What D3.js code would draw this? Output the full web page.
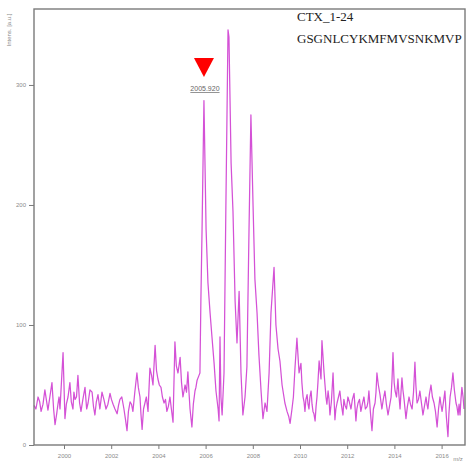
<!DOCTYPE html>
<html><head><meta charset="utf-8">
<script src="https://cdn.jsdelivr.net/npm/d3@7"></script>
<style>body{margin:0;background:#fff}svg{display:block}</style>
</head><body>
<svg id="c" width="469" height="463"></svg>
<script>
// m/z positions of the spectrum samples (main read-off points, then extra baseline samples)
const mz = [1998.73,1998.90,1999.03,1999.19,1999.32,1999.49,1999.62,1999.75,1999.83,1999.96,
2000.04,2000.17,2000.25,2000.38,2000.47,2000.59,2000.72,2000.89,2001.02,2001.19,2001.31,2001.44,2001.61,2001.78,2001.95,
2002.08,2002.25,2002.37,2002.54,2002.67,2002.80,2002.92,2003.09,2003.22,2003.31,2003.43,2003.56,2003.64,2003.77,2003.86,2003.98,
2004.11,2004.24,2004.36,2004.49,2004.62,2004.70,2004.83,2004.92,2005.04,2005.13,2005.25,2005.34,2005.42,2005.55,2005.64,2005.72,2005.76,2005.85,2005.93,
2006.02,2006.10,2006.19,2006.27,2006.36,2006.44,2006.53,2006.57,2006.61,2006.65,2006.70,2006.78,2006.86,2006.95,2006.99,
2007.08,2007.16,2007.25,2007.33,2007.42,2007.50,2007.58,2007.67,2007.75,2007.84,2007.92,
2008.01,2008.09,2008.18,2008.26,2008.35,2008.43,2008.52,2008.60,2008.69,2008.77,2008.90,2008.98,
2009.07,2009.15,2009.24,2009.36,2009.45,2009.58,2009.66,2009.79,2009.87,2009.96,
2010.04,2010.13,2010.21,2010.30,2010.38,2010.47,2010.55,2010.64,2010.72,2010.81,2010.89,2010.93,
2011.02,2011.10,2011.19,2011.27,2011.40,2011.48,2011.57,2011.69,2011.82,2011.91,
2012.03,2012.16,2012.29,2012.37,2012.46,2012.58,2012.71,2012.84,2012.92,
2013.05,2013.18,2013.26,2013.39,2013.47,2013.60,2013.73,2013.86,2013.94,
2014.03,2014.15,2014.24,2014.32,2014.41,2014.49,2014.62,2014.75,2014.87,2014.96,
2015.08,2015.21,2015.34,2015.42,2015.55,2015.68,2015.81,2015.93,
2016.02,2016.14,2016.27,2016.36,2016.48,2016.61,2016.70,2016.78,2016.86,2016.95,
1998.81,1998.97,1999.11,1999.25,1999.40,1999.56,1999.69,1999.79,2000.10,2000.31,2000.42,2000.53,2000.66,2000.80,2000.96,
2001.10,2001.25,2001.37,2001.52,2001.69,2001.86,2002.01,2002.16,2002.31,2002.45,2002.60,2002.73,2002.86,2003.00,2003.15,
2003.26,2003.37,2003.49,2003.71,2003.92,2004.04,2004.17,2004.30,2004.42,2004.55,2004.76,2004.98,2005.19,2005.29,2005.48,2005.59,
2005.80,2009.52,2009.72,2010.08,2010.17,2010.25,2010.34,2010.42,2010.51,2010.59,2010.68,2010.76,2011.06,2011.14,2011.23,
2011.33,2011.44,2011.52,2011.63,2011.75,2011.86,2011.97,2012.09,2012.22,2012.33,2012.41,2012.52,2012.64,2012.77,2012.88,
2012.98,2013.11,2013.22,2013.32,2013.43,2013.53,2013.66,2013.79,2013.90,2013.99,2014.09,2014.19,2014.28,2014.36,2014.45,
2014.55,2014.68,2014.81,2014.91,2015.02,2015.14,2015.27,2015.38,2015.48,2015.61,2015.74,2015.87,2015.97,2016.08,2016.20,
2016.31,2016.42,2016.54,2016.65,2016.74,2016.82,2016.91];
// intensities [a.u.], same order as mz
const intensity = [33,40,28,46,29,52,17,35,30,77,
22,40,52,30,38,58,28,48,35,44,25,42,44,30,43,
34,26,38,30,12,36,28,60,40,13,35,28,64,50,83,55,
48,35,28,40,19,86,60,73,40,50,61,30,15,45,54,58,60,180,287,
180,135,110,90,68,45,30,20,90,40,25,60,200,346,340,
235,195,120,85,128,60,25,40,65,180,275,
200,138,110,75,45,22,35,28,60,110,148,100,
80,70,50,35,28,18,30,65,89,60,
68,40,28,42,30,45,28,20,40,70,55,87,
60,40,45,25,60,21,35,45,25,33,
40,30,43,20,35,28,40,32,45,
12,35,60,42,30,45,25,40,77,
45,55,30,56,38,22,40,30,69,35,
45,25,40,30,50,35,15,40,
28,45,7,40,60,35,25,25,48,30,
30,36,34,38,40,30,26,40,34,36,44,40,35,38,30,
46,32,36,30,38,34,38,30,33,40,22,28,34,44,48,
26,30,40,58,62,50,40,38,32,30,66,52,44,46,34,48,
120,24,40,52,36,38,34,40,34,26,32,52,50,34,38,
36,40,30,40,34,38,30,36,38,32,30,38,34,30,36,
28,30,44,50,36,38,34,32,55,52,40,42,44,46,30,
32,34,44,50,38,36,32,34,42,40,28,30,34,36,24,
26,48,46,32,34,38,40];
const xTicks = [1999,2000,2001,2002,2003,2004,2005,2006,2007,2008,2009,2010,2011,2012,2013,2014,2015,2016];
const xLabels = [2000,2002,2004,2006,2008,2010,2012,2014,2016];
const yLabels = [0,100,200,300];
const yMinor = d3.range(0,361,20);
const peakLabel = {mz:2005.93, text:"2005.920"};
const titleLines = ["CTX_1-24","GSGNLCYKMFMVSNKMVP"];

const svg = d3.select("#c");
const L=34, R=465, T=9, B=445;
const x = d3.scaleLinear().domain([2000 + (L-64)/23.6, 2000 + (R-64)/23.6]).range([L,R]);
const y = d3.scaleLinear().domain([0,363.3]).range([B,T]);
const axisCol = "#7a7a7a", txtCol = "#8a8a8a";

// spectrum
const pts = mz.map((m,i)=>[m,intensity[i]]).sort((a,b)=>a[0]-b[0]);
svg.append("path").datum(pts)
  .attr("fill","none").attr("stroke","#d451d6").attr("stroke-width",1.25)
  .attr("stroke-linejoin","round")
  .attr("d", d3.line().x(d=>x(d[0])).y(d=>y(d[1])));

// frame
svg.append("rect").attr("x",L).attr("y",T).attr("width",R-L).attr("height",B-T)
  .attr("fill","none").attr("stroke",axisCol).attr("stroke-width",1.4);

// y axis
const ya = svg.append("g").attr("transform",`translate(${L},0)`);
ya.call(d3.axisLeft(y).tickValues(yMinor).tickSize(3).tickFormat(""));
ya.call(d3.axisLeft(y).tickValues(yLabels).tickSize(5).tickPadding(3).tickFormat(d3.format("d")));
ya.select(".domain").remove();
ya.selectAll("line").attr("stroke",axisCol);
ya.selectAll("text").attr("fill",txtCol).style("font-family","Liberation Sans, Arial, sans-serif").style("font-size","6px");

// x axis
const xa = svg.append("g").attr("transform",`translate(0,${B})`);
xa.call(d3.axisBottom(x).tickValues(xTicks).tickSize(3).tickFormat(""));
xa.call(d3.axisBottom(x).tickValues(xLabels).tickSize(4).tickPadding(5).tickFormat(d3.format("d")));
xa.select(".domain").remove();
xa.selectAll("line").attr("stroke",axisCol);
xa.selectAll("text").attr("fill",txtCol).style("font-family","Liberation Sans, Arial, sans-serif").style("font-size","6px");

// axis titles
svg.append("text").attr("transform","translate(11,30) rotate(-90)").attr("text-anchor","middle")
  .attr("fill",txtCol).style("font-family","Liberation Sans, Arial, sans-serif").style("font-size","6px")
  .text("Intens. [a.u.]");
svg.append("text").attr("x",458).attr("y",461).attr("text-anchor","middle")
  .attr("fill",txtCol).style("font-family","Liberation Sans, Arial, sans-serif").style("font-size","6px")
  .text("m/z");

// peak marker
const px = x(peakLabel.mz);
svg.append("path").attr("fill","#ff0000")
  .attr("d", d3.line()([[px-10,58],[px+10,58],[px,77]]) + "Z");
svg.append("text").attr("x",px+1).attr("y",91).attr("text-anchor","middle")
  .attr("fill","#666").style("font-family","Liberation Sans, Arial, sans-serif").style("font-size","7px")
  .attr("text-decoration","underline").text(peakLabel.text);

// title text
svg.selectAll(".ttl").data(titleLines).join("text")
  .attr("x",297).attr("y",(d,i)=>21+i*22)
  .attr("fill","#222").style("font-family","Liberation Serif, Times New Roman, serif").style("font-size","13px")
  .text(d=>d);
</script>
</body></html>
